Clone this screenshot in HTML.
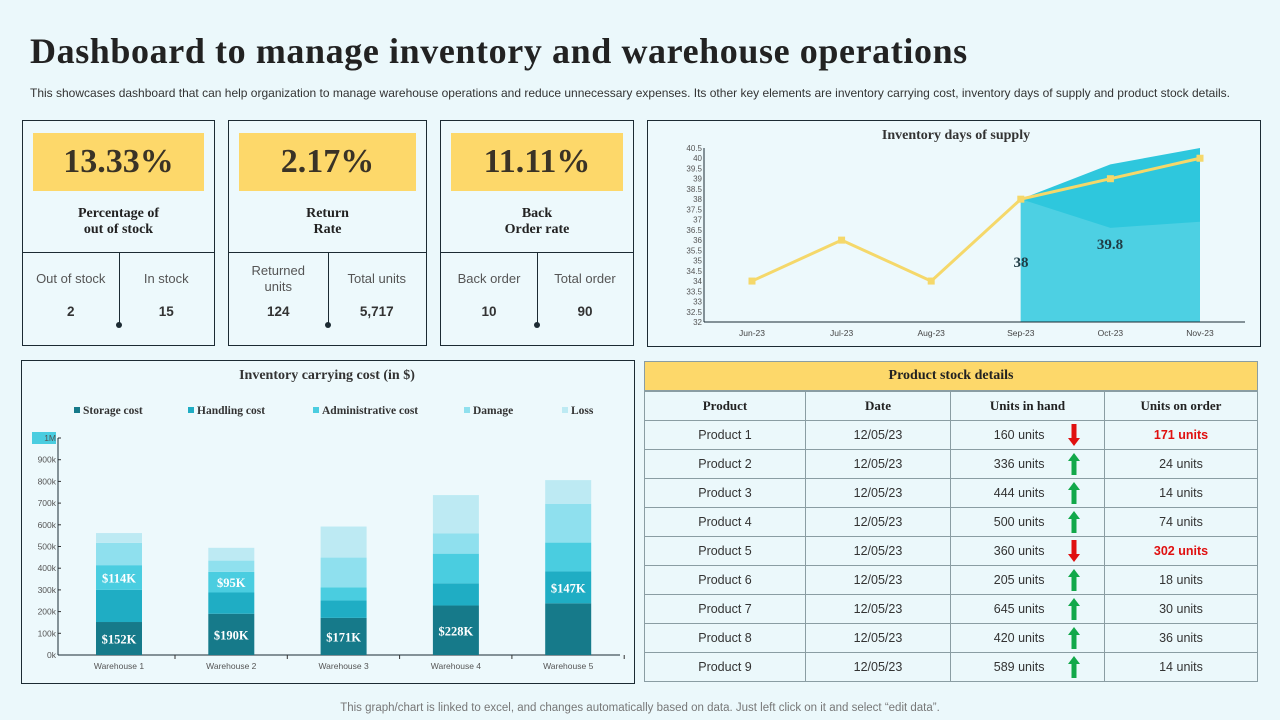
<!DOCTYPE html>
<html><head><meta charset="utf-8"><style>
body{margin:0;width:1280px;height:720px;background:#ebf8fb;font-family:"Liberation Sans",sans-serif;position:relative;overflow:hidden;color:#333}
.abs{position:absolute}
h1{position:absolute;left:30px;top:30px;margin:0;font-family:"Liberation Serif",serif;font-size:36px;font-weight:bold;color:#222;letter-spacing:0.6px}
.sub{left:30px;top:86px;font-size:12px;color:#333;white-space:nowrap}
.card{position:absolute;top:120px;height:226px;border:1px solid #1c2b33;box-sizing:border-box;background:#edf9fc}
.kpi{position:absolute;left:10px;right:10px;top:12px;height:58px;background:#fdd86a;font-family:"Liberation Serif",serif;font-weight:bold;font-size:34px;text-align:center;line-height:58px;color:#3a3326}
.ttl{position:absolute;left:0;right:0;top:85px;text-align:center;font-family:"Liberation Serif",serif;font-weight:bold;font-size:14px;line-height:16px;color:#222}
.hr{position:absolute;left:0;right:0;top:131px;border-top:1px solid #1c2b33}
.vl{position:absolute;left:50%;top:131px;height:73px;border-left:1px solid #1c2b33}
.dot{position:absolute;left:calc(50% - 3px);top:201px;width:6px;height:6px;border-radius:50%;background:#1c2b33}
.lbl{position:absolute;width:50%;text-align:center;font-size:13px;color:#555;line-height:16px}
.val{position:absolute;width:50%;text-align:center;font-size:13.5px;font-weight:bold;top:183px;color:#333}
.panel{position:absolute;border:1px solid #1c2b33;box-sizing:border-box;background:#edf9fc}
table{border-collapse:collapse;position:absolute;left:644px;top:391px;width:614px}
td{border:1px solid #8a9da3;height:28px;font-size:12.5px;text-align:center;color:#333;padding:0;line-height:14px}
th{border:1px solid #8a9da3;height:28px;font-family:"Liberation Serif",serif;font-size:13px;color:#222;font-weight:bold;padding:0;line-height:14px}
.red{color:#e01010;font-weight:bold}
.foot{left:0;width:1280px;top:702px;text-align:center;font-size:11.5px;color:#777}
</style></head><body>
<h1>Dashboard to manage inventory and warehouse operations</h1>
<div class="abs sub">This showcases dashboard that can help organization to manage warehouse operations and reduce unnecessary expenses. Its other key elements are inventory carrying cost, inventory days of supply and product stock details.</div>

<div class="card" style="left:22px;width:193px">
<div class="kpi">13.33%</div>
<div class="ttl">Percentage of<br>out of stock</div>
<div class="hr"></div><div class="vl"></div><div class="dot"></div>
<div class="lbl" style="left:0;top:150px">Out of stock</div><div class="lbl" style="left:50%;top:150px">In stock</div>
<div class="val" style="left:0">2</div><div class="val" style="left:50%">15</div>
</div>
<div class="card" style="left:228px;width:199px">
<div class="kpi">2.17%</div>
<div class="ttl">Return<br>Rate</div>
<div class="hr"></div><div class="vl"></div><div class="dot"></div>
<div class="lbl" style="left:0;top:142px">Returned<br>units</div><div class="lbl" style="left:50%;top:150px">Total units</div>
<div class="val" style="left:0">124</div><div class="val" style="left:50%">5,717</div>
</div>
<div class="card" style="left:440px;width:194px">
<div class="kpi">11.11%</div>
<div class="ttl">Back<br>Order rate</div>
<div class="hr"></div><div class="vl"></div><div class="dot"></div>
<div class="lbl" style="left:0;top:150px">Back order</div><div class="lbl" style="left:50%;top:150px">Total order</div>
<div class="val" style="left:0">10</div><div class="val" style="left:50%">90</div>
</div>

<div class="panel" style="left:647px;top:120px;width:614px;height:227px"></div>
<svg class="abs" style="left:0;top:0" width="1280" height="720" id="sv1"></svg>

<div class="panel" style="left:21px;top:360px;width:614px;height:324px"></div>
<svg class="abs" style="left:0;top:0" width="1280" height="720" id="sv2"></svg>

<div class="abs" style="left:644px;top:361px;width:614px;height:30px;background:#fdd86a;border:1px solid #8a9da3;box-sizing:border-box;text-align:center;line-height:28px;font-family:'Liberation Serif',serif;font-weight:bold;font-size:14px;color:#222">Product stock details</div>
<table>
<tr><th style="width:160px">Product</th><th style="width:144px">Date</th><th style="width:153px">Units in hand</th><th>Units on order</th></tr>
<tbody id="tb"></tbody></table>

<div class="abs foot">This graph/chart is linked to excel, and changes automatically based on data. Just left click on it and select “edit data”.</div>

<script>
const NS="http://www.w3.org/2000/svg";
function mk(p,t,a,txt){const e=document.createElementNS(NS,t);for(const k in a)e.setAttribute(k,a[k]);if(txt!==undefined)e.textContent=txt;p.appendChild(e);return e;}

// ---- Days of supply ----
const months=["Jun-23","Jul-23","Aug-23","Sep-23","Oct-23","Nov-23"];
const supply=[34,36,34,38,39,40];
const forecastLow=[null,null,null,38,36.6,36.9];
const forecastHigh=[null,null,null,38,39.7,41];
const supplyTicks=[32,32.5,33,33.5,34,34.5,35,35.5,36,36.5,37,37.5,38,38.5,39,39.5,40,40.5];
const s1=document.getElementById('sv1');
const X1=i=>752+i*(1200-752)/5, Y1=v=>322-(Math.min(v,40.5)-32)*(174/8.5);
mk(s1,'text',{x:956,y:139,'text-anchor':'middle','font-family':'Liberation Serif','font-weight':'bold','font-size':14,fill:'#333'},'Inventory  days of supply');
supplyTicks.forEach(t=>{mk(s1,'text',{x:702,y:Y1(t)+3,'text-anchor':'end','font-size':8,fill:'#555'},String(t));});
let hp=`M${X1(3)},${Y1(32)}`;for(let i=3;i<6;i++)hp+=` L${X1(i)},${Y1(forecastHigh[i])}`;hp+=` L${X1(5)},${Y1(32)}Z`;
const ha=mk(s1,'path',{d:hp,fill:'#2ec7dd'});
let lp=`M${X1(3)},${Y1(32)}`;for(let i=3;i<6;i++)lp+=` L${X1(i)},${Y1(forecastLow[i])}`;lp+=` L${X1(5)},${Y1(32)}Z`;
const la=mk(s1,'path',{d:lp,fill:'#4dd0e3'});
mk(s1,'line',{x1:704,y1:148,x2:704,y2:322,stroke:'#1c2b33'});
mk(s1,'line',{x1:704,y1:322,x2:1245,y2:322,stroke:'#1c2b33'});
months.forEach((m,i)=>mk(s1,'text',{x:X1(i),y:336,'text-anchor':'middle','font-size':8.5,fill:'#444'},m));
const ln=mk(s1,'polyline',{points:supply.map((v,i)=>X1(i)+','+Y1(v)).join(' '),fill:'none',stroke:'#f5d86a','stroke-width':3});

supply.forEach((v,i)=>{const r=mk(s1,'rect',{x:X1(i)-3.5,y:Y1(v)-3.5,width:7,height:7,fill:'#f5d86a'});});
mk(s1,'text',{x:1021,y:267,'text-anchor':'middle','font-family':'Liberation Serif','font-weight':'bold','font-size':15,fill:'#1f3b44'},'38');
mk(s1,'text',{x:1110,y:249,'text-anchor':'middle','font-family':'Liberation Serif','font-weight':'bold','font-size':15,fill:'#1f3b44'},'39.8');

// ---- Carrying cost ----
const warehouses=["Warehouse 1","Warehouse 2","Warehouse 3","Warehouse 4","Warehouse 5"];
const seriesNames=["Storage cost","Handling cost","Administrative cost","Damage","Loss"];
const storage=[152,190,171,228,238];
const handling=[148,98,80,102,147];
const admin=[114,95,60,137,133];
const damage=[103,52,138,93,179];
const loss=[45,59,143,177,109];
const costTicks=["0k","100k","200k","300k","400k","500k","600k","700k","800k","900k","1M"];
const colors=['#167a8a','#1fadc4','#4acde0','#8fe0ee','#bdeaf3'];
const s2=document.getElementById('sv2');
const series=[storage,handling,admin,damage,loss];
const Y2=v=>655-v*0.217, X2=i=>119+i*112.3;
mk(s2,'text',{x:327,y:379,'text-anchor':'middle','font-family':'Liberation Serif','font-weight':'bold','font-size':14,fill:'#333'},'Inventory carrying cost (in $)');
const lx=[74,188,313,464,562];
seriesNames.forEach((n,k)=>{mk(s2,'rect',{x:lx[k],y:407,width:6,height:6,fill:colors[k]});
 const t=mk(s2,'text',{x:lx[k]+9,y:414,'font-family':'Liberation Serif','font-weight':'bold','font-size':11.5,fill:'#333'},n);});
mk(s2,'rect',{x:32,y:432,width:24,height:12,fill:'#4acde0'});
costTicks.forEach((t,i)=>{const y=Y2(i*100);mk(s2,'text',{x:56,y:y+3,'text-anchor':'end','font-size':8.5,fill:'#555'},t);mk(s2,'line',{x1:58,y1:y,x2:61,y2:y,stroke:'#333'});});
mk(s2,'line',{x1:58,y1:Y2(1000),x2:58,y2:655,stroke:'#1c2b33'});
mk(s2,'line',{x1:58,y1:655,x2:620,y2:655,stroke:'#1c2b33'});
warehouses.forEach((w,i)=>{let acc=0;
 series.forEach((s,k)=>{const r=mk(s2,'rect',{x:X2(i)-23,y:Y2(acc+s[i]),width:46,height:s[i]*0.217,fill:colors[k]});
  acc+=s[i];});
 mk(s2,'text',{x:X2(i),y:669,'text-anchor':'middle','font-size':8.5,fill:'#555'},w);
 if(i<4){mk(s2,'text',{x:X2(i),y:Y2(storage[i]/2)+5,'text-anchor':'middle','font-family':'Liberation Serif','font-weight':'bold','font-size':12.5,fill:'#fff'},'$'+storage[i]+'K');}
 mk(s2,'line',{x1:X2(i)+56,y1:655,x2:X2(i)+56,y2:659,stroke:'#333'});
});
[[0,2,admin],[1,2,admin],[4,1,handling]].forEach(([i,k,s])=>{let b=0;for(let j=0;j<k;j++)b+=series[j][i];
 mk(s2,'text',{x:X2(i),y:Y2(b+s[i]/2)+5,'text-anchor':'middle','font-family':'Liberation Serif','font-weight':'bold','font-size':12.5,fill:'#fff'},'$'+s[i]+'K');});

// ---- Table ----
const inHand=[160,336,444,500,360,205,645,420,589];
const onOrder=[171,24,14,74,302,18,30,36,14];
const up=[false,true,true,true,false,true,true,true,true];
const tb=document.getElementById('tb');
inHand.forEach((v,i)=>{const tr=document.createElement('tr');
 
 
 const arrow=up[i]?'<svg width="14" height="24" style="vertical-align:middle;display:inline-block"><path d="M7,1 L13,9 L9.5,9 L9.5,23 L4.5,23 L4.5,9 L1,9Z" fill="#12a84a"/></svg>':'<svg width="14" height="24" style="vertical-align:middle;display:inline-block"><path d="M7,23 L13,15 L9.5,15 L9.5,1 L4.5,1 L4.5,15 L1,15Z" fill="#e01010"/></svg>';
 tr.innerHTML=`<td>Product ${i+1}</td><td>12/05/23</td><td><span style="display:inline-block;width:70px;text-align:right;vertical-align:middle">${v} units</span><span style="display:inline-block;width:36px;text-align:right;vertical-align:middle;height:24px">${arrow}</span></td><td class="${up[i]?'':'red'}">${onOrder[i]} units</td>`;
 tb.appendChild(tr);});
</script>
</body></html>
